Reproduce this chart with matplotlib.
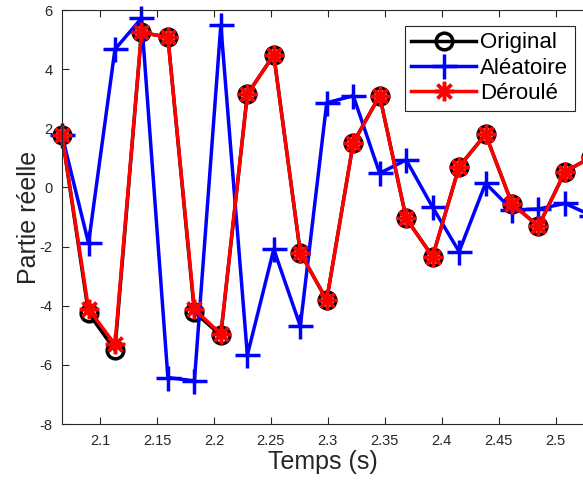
import matplotlib
matplotlib.use('Agg')
import matplotlib.pyplot as plt

plt.rcParams['font.family'] = ['Liberation Sans', 'DejaVu Sans']
plt.rcParams['axes.unicode_minus'] = False

# time samples (s)
temps = [2.0665, 2.0898, 2.1130, 2.1363, 2.1595, 2.1828, 2.2060, 2.2293,
         2.2525, 2.2758, 2.2990, 2.3223, 2.3455, 2.3688, 2.3920, 2.4153,
         2.4385, 2.4618, 2.4850, 2.5083, 2.5315]

original = [1.77, -4.25, -5.50, 5.24, 5.08, -4.22, -5.00, 3.15, 4.48, -2.21,
            -3.81, 1.51, 3.10, -1.05, -2.34, 0.70, 1.80, -0.56, -1.31, 0.53, 1.03]
aleatoire = [1.77, -1.89, 4.67, 5.72, -6.43, -6.54, 5.49, -5.67, -2.09, -4.69,
             2.86, 3.10, 0.48, 0.93, -0.67, -2.17, 0.14, -0.76, -0.73, -0.54, -0.95]
deroule = [1.77, -4.11, -5.31, 5.24, 5.08, -4.12, -4.96, 3.15, 4.48, -2.21,
           -3.81, 1.51, 3.10, -1.05, -2.34, 0.70, 1.80, -0.56, -1.31, 0.53, 1.03]

fig = plt.figure(figsize=(5.83, 4.82), dpi=100)
ax = fig.add_axes([62/583, 58/482, 521/583, 414/482])

ax.plot(temps, original, color='k', lw=2.5, marker='o', ms=12,
        mfc='none', mew=2.5, label='Original', clip_on=False)
ax.plot(temps, aleatoire, color='#0000ff', lw=2.5, marker='+', ms=18,
        mew=2.5, label='Aléatoire', clip_on=False)
ax.plot(temps, deroule, color='#ff0000', lw=2.5, marker=(8, 2, 0), ms=14,
        mew=2.5, label='Déroulé', clip_on=False)

ax.set_xlim(2.0665, 2.5241)
ax.set_ylim(-8, 6)
ax.set_xticks([2.1, 2.15, 2.2, 2.25, 2.3, 2.35, 2.4, 2.45, 2.5])
ax.set_xticklabels(['2.1', '2.15', '2.2', '2.25', '2.3', '2.35', '2.4', '2.45', '2.5'])
ax.set_yticks([-8, -6, -4, -2, 0, 2, 4, 6])

ax.spines['right'].set_visible(False)
for s in ['left', 'top', 'bottom']:
    ax.spines[s].set_color('#262626')
    ax.spines[s].set_linewidth(0.8)
ax.tick_params(direction='in', length=5, width=0.8, colors='#262626',
               labelsize=10.5, top=True, pad=7)

ax.set_xlabel('Temps (s)', fontsize=18, color='#262626', labelpad=2)
ax.set_ylabel('Partie réelle', fontsize=18, color='#262626', labelpad=-1)

leg = ax.legend(loc='upper right', bbox_to_anchor=(575/583, 1 - 25.7/482),
                bbox_transform=fig.transFigure, borderaxespad=0,
                fontsize=16, handlelength=2.9, handletextpad=0.2,
                labelspacing=0.2, borderpad=0.3, fancybox=False,
                framealpha=1, edgecolor='#262626')
leg.get_frame().set_linewidth(0.8)

plt.savefig('out.png', dpi=100)
